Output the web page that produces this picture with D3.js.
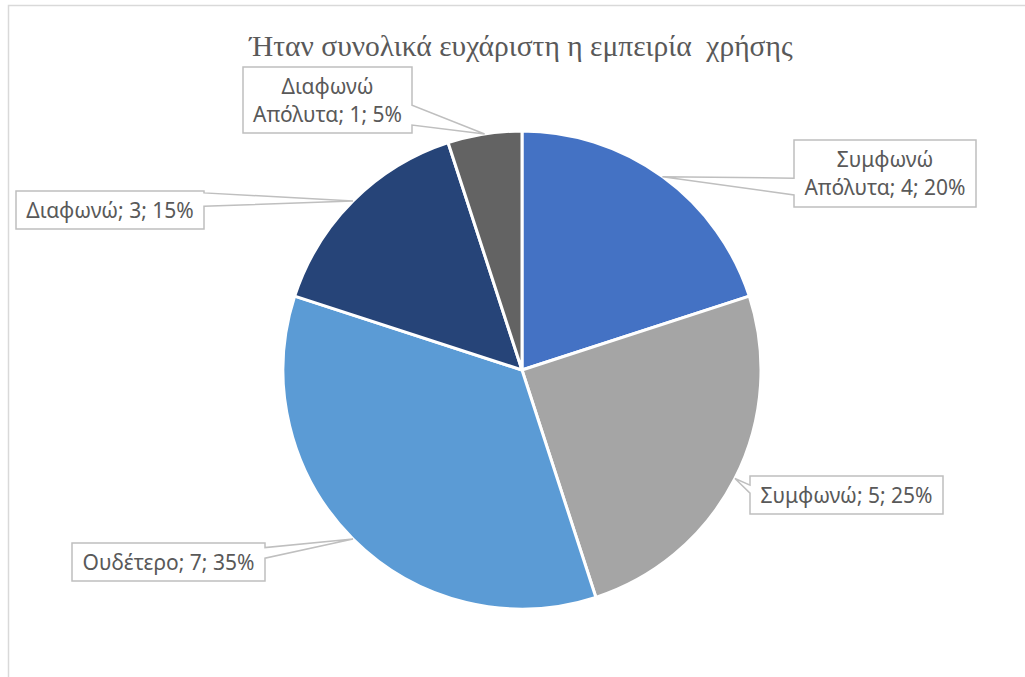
<!DOCTYPE html>
<html>
<head>
<meta charset="utf-8">
<script src="https://cdn.jsdelivr.net/npm/d3@7"></script>
<style>
  html, body { margin: 0; padding: 0; background: #fff; }
  svg { display: block; }
</style>
</head>
<body>
<svg id="chart" width="1025" height="677"></svg>
<script>
// Survey answers, in drawing order (clockwise from 12 o'clock)
const categories = ["Συμφωνώ Απόλυτα", "Συμφωνώ", "Ουδέτερο", "Διαφωνώ", "Διαφωνώ Απόλυτα"];
const counts = [4, 5, 7, 3, 1];
const sliceColors = ["#4472C4", "#A5A5A5", "#5B9BD5", "#264478", "#636363"];
const labelLines = [
  ["Συμφωνώ", "Απόλυτα; {v}; {p}"],
  ["Συμφωνώ; {v}; {p}"],
  ["Ουδέτερο; {v}; {p}"],
  ["Διαφωνώ; {v}; {p}"],
  ["Διαφωνώ", "Απόλυτα; {v}; {p}"]
];
const title = "Ήταν συνολικά ευχάριστη η εμπειρία  χρήσης";

// Callout boxes: left/top/width/height and the span of the pointer base along the facing side
const calloutBoxes = [
  { x: 794, y: 140, w: 182, h: 67, side: "left",  b0: 0.57, b1: 0.82 },
  { x: 750, y: 476, w: 193, h: 38, side: "left",  b0: 0.24, b1: 0.45 },
  { x: 72,  y: 543, w: 193, h: 38, side: "right", b0: 0.12, b1: 0.40 },
  { x: 16,  y: 191, w: 188, h: 38, side: "right", b0: 0.05, b1: 0.40 },
  { x: 243, y: 67,  w: 169, h: 66, side: "right", b0: 0.58, b1: 0.88 }
];

const svg = d3.select("#chart");
const W = 1025, H = 677;
const cx = 522, cy = 370, R = 239;
const textColor = "#595959";

// Chart area frame
svg.append("rect")
  .attr("x", 8.5).attr("y", 5.5)
  .attr("width", W + 20).attr("height", H + 20)
  .attr("fill", "#fff").attr("stroke", "#d9d9d9").attr("stroke-width", 1.5);

// Title
svg.append("text")
  .attr("x", 521).attr("y", 56)
  .attr("text-anchor", "middle")
  .attr("font-family", "'Liberation Serif', 'Times New Roman', serif")
  .attr("font-size", 29.5)
  .attr("fill", textColor)
  .attr("xml:space", "preserve")
  .style("white-space", "pre")
  .text(title);

const total = d3.sum(counts);
const pie = d3.pie().sort(null).value(d => d)(counts);
const arc = d3.arc().innerRadius(0).outerRadius(R);

const g = svg.append("g").attr("transform", `translate(${cx},${cy})`);

g.selectAll("path.slice")
  .data(pie)
  .join("path")
  .attr("class", "slice")
  .attr("d", arc)
  .attr("fill", (d, i) => sliceColors[i])
  .attr("stroke", "#fff")
  .attr("stroke-width", 3)
  .attr("stroke-linejoin", "round");

// Callouts: a box with a tapering pointer to the slice edge
const pct = d3.format(".0%");
pie.forEach((d, i) => {
  const box = calloutBoxes[i];
  const mid = (d.startAngle + d.endAngle) / 2;
  const tipX = cx + R * Math.sin(mid);
  const tipY = cy - R * Math.cos(mid);
  const sx = box.side === "left" ? box.x : box.x + box.w;
  const y0 = box.y + box.h * box.b0;
  const y1 = box.y + box.h * box.b1;

  let pts;
  if (box.side === "left") {
    pts = [[box.x, box.y], [box.x + box.w, box.y], [box.x + box.w, box.y + box.h],
           [box.x, box.y + box.h], [sx, y1], [tipX, tipY], [sx, y0]];
  } else {
    pts = [[box.x, box.y], [box.x + box.w, box.y], [sx, y0], [tipX, tipY], [sx, y1],
           [box.x + box.w, box.y + box.h], [box.x, box.y + box.h]];
  }
  svg.append("path")
    .attr("d", d3.line()(pts) + "Z")
    .attr("fill", "#fff")
    .attr("stroke", "#bfbfbf")
    .attr("stroke-width", 1.5)
    .attr("stroke-linejoin", "miter");

  const lines = labelLines[i].map(s => s.replace("{v}", counts[i]).replace("{p}", pct(counts[i] / total)));
  const lh = 28;
  const firstY = box.y + box.h / 2 - (lines.length - 1) * lh / 2 + 7.5;
  const t = svg.append("text")
    .attr("text-anchor", "middle")
    .attr("font-family", "'Noto Sans', 'Open Sans', sans-serif")
    .attr("font-size", 21)
    .attr("fill", textColor);
  lines.forEach((s, k) => {
    t.append("tspan")
      .attr("x", box.x + box.w / 2)
      .attr("y", firstY + k * lh)
      .text(s);
  });
});
</script>
</body>
</html>
